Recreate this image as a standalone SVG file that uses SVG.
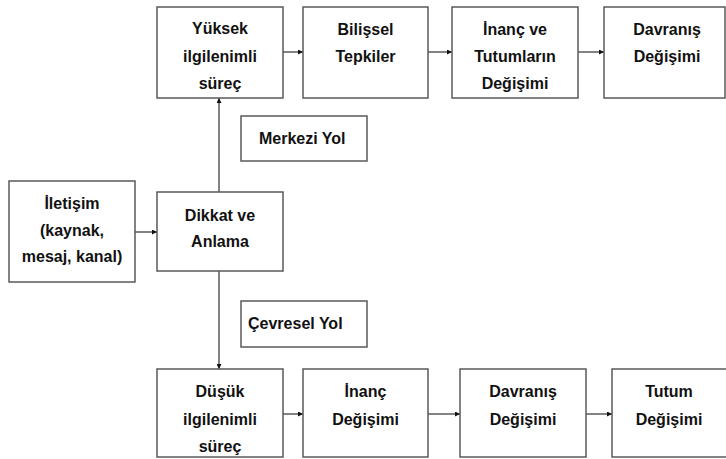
<svg xmlns="http://www.w3.org/2000/svg" width="726" height="459" viewBox="0 0 726 459">
<style>
.box{fill:#fff;stroke:#5a5a5a;stroke-width:1.5}
.t{font-family:"Liberation Sans",Arial,sans-serif;font-weight:bold;font-size:16px;fill:#111;text-anchor:middle}
.l{text-anchor:start}
.c{fill:none;stroke:#5a5a5a;stroke-width:1.5}
</style>
<defs>
<marker id="ah" viewBox="0 0 8 8" refX="8" refY="4" markerWidth="5" markerHeight="5" markerUnits="userSpaceOnUse" orient="auto">
<path d="M0,0 L8,4 L0,8 z" fill="#111"/>
</marker>
</defs>
<rect width="726" height="459" fill="#fff"/>
<g id="connectors">
<line class="c" x1="283" y1="52" x2="303" y2="52" marker-end="url(#ah)"/>
<line class="c" x1="428" y1="52" x2="452" y2="52" marker-end="url(#ah)"/>
<line class="c" x1="578" y1="52" x2="604" y2="52" marker-end="url(#ah)"/>
<line class="c" x1="219" y1="192" x2="219" y2="98" marker-end="url(#ah)"/>
<line class="c" x1="219" y1="271" x2="219" y2="369" marker-end="url(#ah)"/>
<line class="c" x1="135" y1="232" x2="157" y2="232" marker-end="url(#ah)"/>
<line class="c" x1="283" y1="414" x2="303" y2="414" marker-end="url(#ah)"/>
<line class="c" x1="428" y1="414" x2="460" y2="414" marker-end="url(#ah)"/>
<line class="c" x1="586" y1="414" x2="612" y2="414" marker-end="url(#ah)"/>
</g>
<g id="yuksek"><rect class="box" x="157" y="7" width="126" height="91"/>
<text class="t" x="220" y="34">Yüksek</text><text class="t" x="220" y="62">ilgilenimli</text><text class="t" x="220" y="89">süreç</text></g>
<g id="bilissel"><rect class="box" x="303" y="7" width="125" height="91"/>
<text class="t" x="365.5" y="35">Bilişsel</text><text class="t" x="365.5" y="62">Tepkiler</text></g>
<g id="inanc-tutum"><rect class="box" x="452" y="7" width="126" height="91"/>
<text class="t" x="515" y="35">İnanç ve</text><text class="t" x="515" y="62">Tutumların</text><text class="t" x="515" y="89">Değişimi</text></g>
<g id="davranis1"><rect class="box" x="604" y="7" width="121" height="91"/>
<text class="t" x="667" y="35">Davranış</text><text class="t" x="667" y="62">Değişimi</text></g>
<g id="merkezi"><rect class="box" x="241" y="116" width="126" height="45"/>
<text class="t l" x="259" y="144">Merkezi Yol</text></g>
<g id="iletisim"><rect class="box" x="9" y="181" width="126" height="101"/>
<text class="t" x="72" y="209">İletişim</text><text class="t" x="72" y="236">(kaynak,</text><text class="t" x="72" y="262">mesaj, kanal)</text></g>
<g id="dikkat"><rect class="box" x="157" y="192" width="126" height="79"/>
<text class="t" x="220" y="221">Dikkat ve</text><text class="t" x="220" y="247">Anlama</text></g>
<g id="cevresel"><rect class="box" x="241" y="301" width="126" height="46"/>
<text class="t l" x="248" y="329">Çevresel Yol</text></g>
<g id="dusuk"><rect class="box" x="157" y="369" width="126" height="88"/>
<text class="t" x="220" y="397">Düşük</text><text class="t" x="220" y="425">ilgilenimli</text><text class="t" x="220" y="452">süreç</text></g>
<g id="inanc2"><rect class="box" x="303" y="369" width="125" height="88"/>
<text class="t" x="365.5" y="397">İnanç</text><text class="t" x="365.5" y="425">Değişimi</text></g>
<g id="davranis2"><rect class="box" x="460" y="369" width="126" height="88"/>
<text class="t" x="523" y="397">Davranış</text><text class="t" x="523" y="425">Değişimi</text></g>
<g id="tutum"><rect class="box" x="612" y="369" width="116" height="88"/>
<text class="t" x="669" y="397">Tutum</text><text class="t" x="669" y="425">Değişimi</text></g>
</svg>
